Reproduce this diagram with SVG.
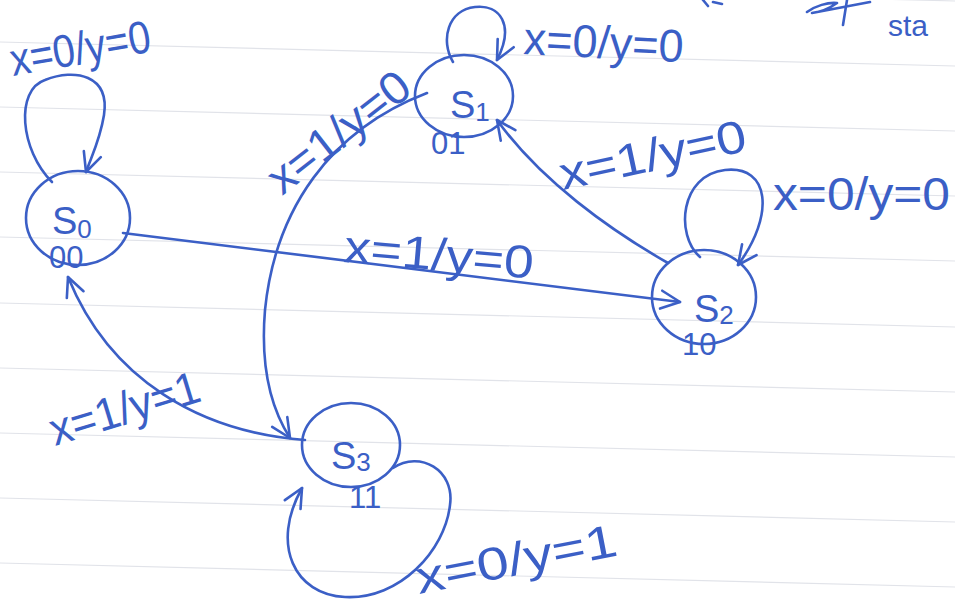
<svg xmlns="http://www.w3.org/2000/svg" width="955" height="607" viewBox="0 0 955 607">
<style>
.ink{fill:none;stroke:#3b5fc6;stroke-width:2.6;stroke-linecap:round;stroke-linejoin:round}
.rule{stroke:#e1e3e9;stroke-width:1.2}
.lbl{font-family:"Liberation Sans","DejaVu Sans",sans-serif;font-size:46px;fill:#3b5fc6}
.st{font-family:"Liberation Sans","DejaVu Sans",sans-serif;font-size:38px;fill:#3b5fc6}
.sub{font-size:26px}
.bits{font-family:"Liberation Sans","DejaVu Sans",sans-serif;font-size:31px;fill:#3b5fc6}
.note{font-family:"Liberation Sans","DejaVu Sans",sans-serif;font-size:30px;fill:#3b5fc6}
</style>
<defs>
<marker id="arr" viewBox="0 0 24 24" refX="22" refY="12" markerWidth="24" markerHeight="24" markerUnits="userSpaceOnUse" orient="auto">
<path d="M3,3 L22,12 L3,21" fill="none" stroke="#3b5fc6" stroke-width="2.6" stroke-linecap="round" stroke-linejoin="round"/>
</marker>
</defs>
<rect width="955" height="607" fill="#ffffff"/>
<g id="rules">
<line class="rule" x1="0" y1="-23" x2="955" y2="1"/>
<line class="rule" x1="0" y1="42" x2="955" y2="66"/>
<line class="rule" x1="0" y1="107" x2="955" y2="131"/>
<line class="rule" x1="0" y1="172" x2="955" y2="196"/>
<line class="rule" x1="0" y1="237" x2="955" y2="261"/>
<line class="rule" x1="0" y1="303" x2="955" y2="327"/>
<line class="rule" x1="0" y1="368" x2="955" y2="392"/>
<line class="rule" x1="0" y1="433" x2="955" y2="457"/>
<line class="rule" x1="0" y1="498" x2="955" y2="522"/>
<line class="rule" x1="0" y1="563" x2="955" y2="587"/>
</g>
<g id="page-top">
<path class="ink" d="M703,0 L708,6 M713,2 L722,4"/>
<path class="ink" d="M807,12 C815,6 828,2 837,3 C830,8 820,12 812,13 L870,2 M847,0 L843,25"/>
<text class="note" x="888" y="36">sta</text>
</g>
<g id="connectors">
<path class="ink" marker-end="url(#arr)" d="M52,182 C20,150 15,90 45,80 C75,68 110,75 104,115 C100,140 92,155 86,172"/>
<path class="ink" marker-end="url(#arr)" d="M453,62 C440,40 448,10 475,7 C500,4 515,25 497,60"/>
<path class="ink" marker-end="url(#arr)" d="M700,257 C675,235 680,175 725,170 C770,165 775,215 738,265"/>
<path class="ink" marker-end="url(#arr)" d="M393,468 C420,450 455,470 450,505 C445,550 400,600 345,597 C295,595 270,545 302,488"/>
<path class="ink" marker-end="url(#arr)" d="M123,233 L680,302"/>
<path class="ink" marker-end="url(#arr)" d="M668,263 C610,230 540,180 497,120"/>
<path class="ink" marker-end="url(#arr)" d="M427,93 C330,130 275,210 265,310 C260,370 272,410 290,438"/>
<path class="ink" marker-end="url(#arr)" d="M305,440 C200,432 110,380 68,277"/>
</g>
<g id="labels">
<text class="lbl" x="13" y="76" textLength="142" lengthAdjust="spacingAndGlyphs" transform="rotate(-10 13 76)">x=0/y=0</text>
<text class="lbl" x="523" y="54" textLength="160" lengthAdjust="spacingAndGlyphs" transform="rotate(3 523 54)">x=0/y=0</text>
<text class="lbl" x="773" y="210" textLength="177" lengthAdjust="spacingAndGlyphs">x=0/y=0</text>
<text class="lbl" x="343" y="262" textLength="190" lengthAdjust="spacingAndGlyphs" transform="rotate(5 343 262)">x=1/y=0</text>
<text class="lbl" x="563" y="190" textLength="190" lengthAdjust="spacingAndGlyphs" transform="rotate(-12 563 190)">x=1/y=0</text>
<text class="lbl" x="282" y="196" textLength="168" lengthAdjust="spacingAndGlyphs" transform="rotate(-38 282 196)">x=1/y=0</text>
<text class="lbl" x="55" y="446" textLength="155" lengthAdjust="spacingAndGlyphs" transform="rotate(-17 55 446)">x=1/y=1</text>
<text class="lbl" x="419" y="594" textLength="204" lengthAdjust="spacingAndGlyphs" transform="rotate(-11 419 594)">x=0/y=1</text>
</g>
<g id="S0">
<ellipse class="ink" cx="78" cy="218" rx="52" ry="47"/>
<text class="st" x="52" y="234">S<tspan class="sub" dy="4">0</tspan></text>
<text class="bits" x="49" y="268">00</text>
</g>
<g id="S1">
<ellipse class="ink" cx="464" cy="96" rx="49" ry="41"/>
<text class="st" x="450" y="118">S<tspan class="sub" dy="3">1</tspan></text>
<text class="bits" x="431" y="154">01</text>
</g>
<g id="S2">
<ellipse class="ink" cx="704" cy="297" rx="52" ry="47"/>
<text class="st" x="694" y="322">S<tspan class="sub" dy="2">2</tspan></text>
<text class="bits" x="682" y="355">10</text>
</g>
<g id="S3">
<ellipse class="ink" cx="351" cy="445" rx="49" ry="42"/>
<text class="st" x="331" y="469">S<tspan class="sub" dy="2">3</tspan></text>
<text class="bits" x="349" y="508">11</text>
</g>
</svg>
